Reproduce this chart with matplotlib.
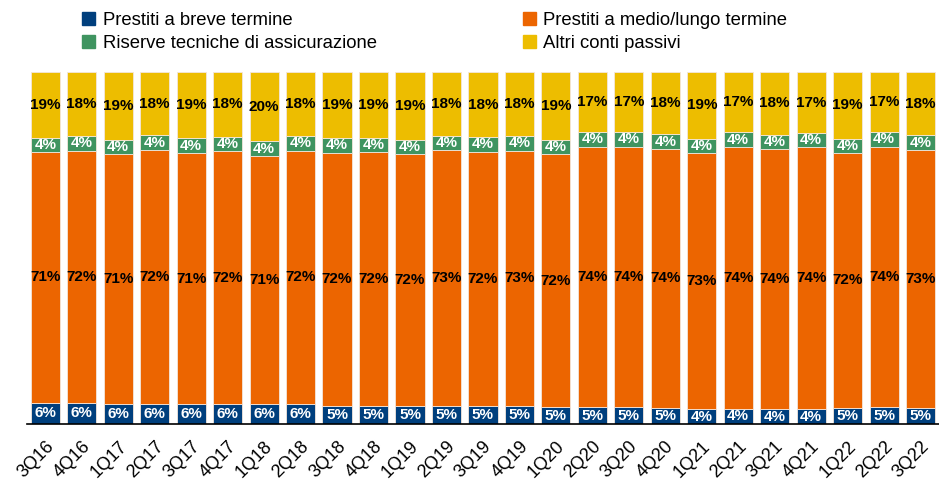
import numpy as np
import matplotlib.pyplot as plt
from matplotlib.patches import Patch

quarters = ["3Q16", "4Q16", "1Q17", "2Q17", "3Q17", "4Q17", "1Q18", "2Q18", "3Q18",
            "4Q18", "1Q19", "2Q19", "3Q19", "4Q19", "1Q20", "2Q20", "3Q20", "4Q20",
            "1Q21", "2Q21", "3Q21", "4Q21", "1Q22", "2Q22", "3Q22"]

# quota percentuale di ciascuna voce sul totale delle passività
breve = [6.1, 6.0, 5.8, 5.8, 5.6, 5.6, 5.6, 5.6, 5.2, 5.2, 5.0, 5.0, 5.0,
         5.1, 4.8, 4.8, 4.8, 4.6, 4.2, 4.3, 4.2, 4.2, 4.6, 4.8, 4.6]
medio_lungo = [71.1, 71.6, 70.9, 72.2, 71.4, 71.9, 70.7, 72.1, 71.9, 72.1, 71.6, 72.9, 72.3,
               72.6, 71.9, 74.0, 74.0, 73.6, 72.9, 74.4, 74.0, 74.4, 72.5, 74.0, 73.4]
riserve = [4.2, 4.3, 3.9, 4.0, 4.2, 4.2, 4.0, 4.2, 4.2, 4.0, 4.1, 4.0, 4.3,
           4.2, 3.9, 4.2, 4.2, 4.1, 4.0, 4.3, 4.0, 4.0, 4.0, 4.2, 4.0]
altri = [18.6, 18.1, 19.4, 18.0, 18.8, 18.3, 19.7, 18.1, 18.7, 18.7, 19.3, 18.1, 18.4,
         18.1, 19.4, 17.0, 17.0, 17.7, 18.9, 17.0, 17.8, 17.4, 18.9, 17.0, 18.0]

series = [
    ("Prestiti a breve termine", breve, "#003F7D", "white"),
    ("Prestiti a medio/lungo termine", medio_lungo, "#EC6500", "black"),
    ("Riserve tecniche di assicurazione", riserve, "#3F9460", "white"),
    ("Altri conti passivi", altri, "#EDBD00", "black"),
]

plt.rcParams['font.family'] = ['Liberation Sans', 'DejaVu Sans']

fig = plt.figure(figsize=(9.39, 4.82), dpi=100)
ax = fig.add_axes([0.0288, 0.1203, 0.971, 0.730])

x = np.arange(len(quarters))
bottom = np.zeros(len(quarters))
for name, vals, color, txt in series:
    vals = np.array(vals)
    ax.bar(x, vals, 0.8, bottom=bottom, color=color, edgecolor="#f3e6dc", linewidth=0.6)
    for xi, b, v in zip(x, bottom, vals):
        ax.text(xi, b + v / 2, f"{v:.0f}%", ha="center", va="center",
                color=txt, fontsize=11, fontweight="bold")
    bottom += vals

ax.set_xlim(-0.5, len(quarters) - 0.5)
ax.set_ylim(0, 100)
ax.set_yticks([])
ax.set_xticks(x)
ax.set_xticklabels(quarters, rotation=45, ha="right", rotation_mode="anchor", fontsize=13)
ax.tick_params(axis="x", length=0, pad=10)
for side in ["top", "right", "left"]:
    ax.spines[side].set_visible(False)
ax.spines["bottom"].set_linewidth(1.2)

order = [0, 2, 1, 3]
handles = [Patch(color=series[i][2], label=series[i][0]) for i in order]
fig.legend(handles=handles, ncol=2, loc="upper left", bbox_to_anchor=(0.070, 1.009),
           frameon=False, fontsize=13.3, handlelength=0.7, handleheight=0.7,
           handletextpad=0.4, columnspacing=7.9, labelspacing=0.3)

fig.savefig("out.png", dpi=100)
